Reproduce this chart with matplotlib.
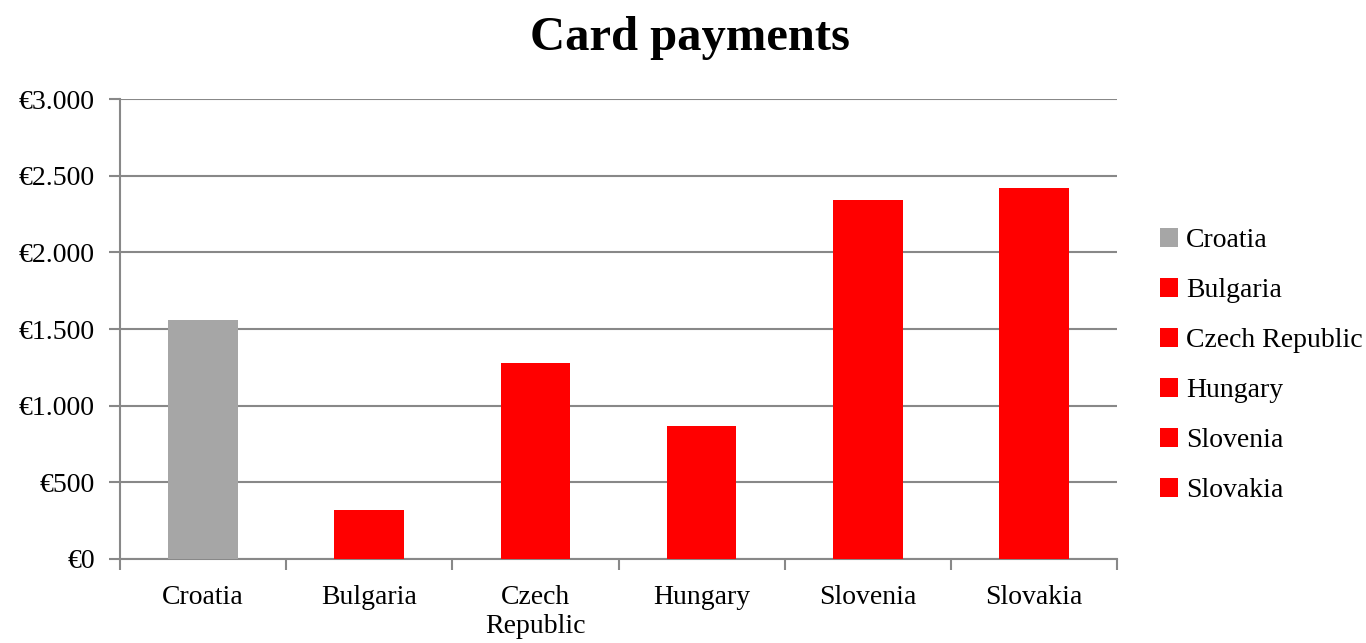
import matplotlib
matplotlib.use("Agg")
import matplotlib.pyplot as plt
import matplotlib.ticker as ticker
import matplotlib.patheffects as pe
from matplotlib.patches import Patch
import numpy as np

COUNTRIES = ["Croatia", "Bulgaria", "Czech Republic", "Hungary", "Slovenia", "Slovakia"]
TICK_LABELS = ["Croatia", "Bulgaria", "Czech\nRepublic", "Hungary", "Slovenia", "Slovakia"]
PAYMENTS = [1558, 318, 1277, 866, 2339, 2421]
COLORS = ["#a6a6a6", "#ff0000", "#ff0000", "#ff0000", "#ff0000", "#ff0000"]

plt.rcParams["font.family"] = ["Liberation Serif", "DejaVu Serif"]

fig = plt.figure(figsize=(13.66, 6.43), dpi=100)
ax = fig.add_axes([120 / 1366, 1 - 559 / 643, (1117 - 120) / 1366, (559 - 99) / 643])

x = np.arange(len(COUNTRIES))
bars = ax.bar(x, PAYMENTS, width=0.42, color=COLORS, zorder=3)
# soft shadow on the highlighted bar
bars[0].set_path_effects([pe.SimplePatchShadow(offset=(0, 0), shadow_rgbFace="#bbbbbb", alpha=0.5),
                          pe.Normal()])

ax.set_xlim(-0.5, len(COUNTRIES) - 0.5)
ax.set_ylim(0, 3000)
ax.yaxis.set_major_locator(ticker.MultipleLocator(500))
ax.yaxis.set_major_formatter(ticker.FuncFormatter(
    lambda v, _: "€" + f"{int(v):,}".replace(",", ".")))

ax.set_xticks(x)
ax.set_xticklabels(TICK_LABELS, fontsize=20, linespacing=1.2)
ax.set_xticks(np.arange(-0.5, len(COUNTRIES)), minor=True)
ax.tick_params(axis="x", which="major", length=0, pad=19)
ax.tick_params(axis="x", which="minor", length=8, width=1.5, color="#888888")
ax.tick_params(axis="y", length=8, width=1.5, color="#888888", labelsize=20, pad=10)

ax.grid(axis="y", color="#888888", linewidth=1.5, zorder=0)
for side in ["top", "right"]:
    ax.spines[side].set_visible(False)
for side in ["left", "bottom"]:
    ax.spines[side].set_color("#888888")
    ax.spines[side].set_linewidth(1.5)

fig.text(0.505, 1 - 38 / 643, "Card payments", fontsize=35, fontweight="bold",
         ha="center", va="center")

handles = [Patch(facecolor=c, edgecolor="none") for c in COLORS]
ax.legend(handles, COUNTRIES, loc="center left", bbox_to_anchor=(1.018, 0.42),
          frameon=False, fontsize=20, handlelength=0.65, handleheight=0.65,
          handletextpad=0.3, labelspacing=0.9)

fig.savefig("out.png", dpi=100)
